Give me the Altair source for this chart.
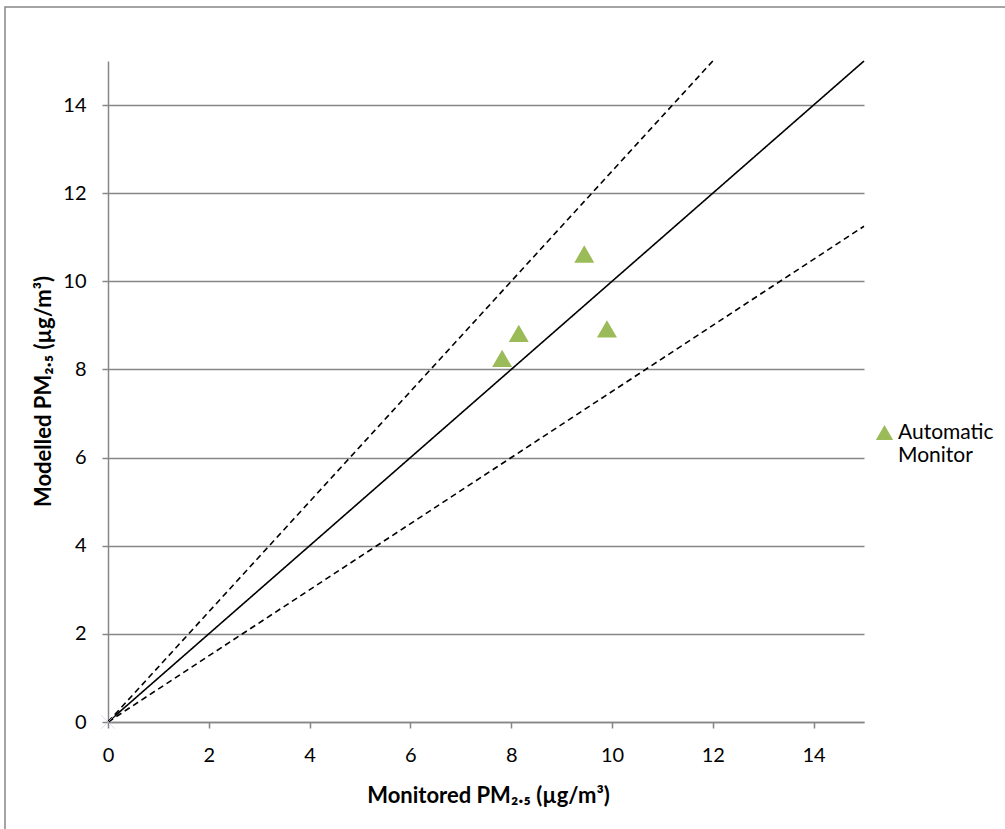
import altair as alt
import pandas as pd

# Automatic monitor sites: monitored vs modelled annual mean PM2.5 (µg/m³)
monitored = [7.82, 8.15, 9.45, 9.90]
modelled = [8.25, 8.82, 10.62, 8.92]
site_type = ["Automatic Monitor"] * 4

# Reference lines: 1:1 and ±25 % agreement envelope (start and end points)
ref_line = ["1:1", "1:1", "+25%", "+25%", "-25%", "-25%"]
ref_x = [0, 15, 0, 12, 0, 15]
ref_y = [0, 15, 0, 15, 0, 11.25]

axis_ticks = [0, 2, 4, 6, 8, 10, 12, 14]

GRAY = "#868686"
FONT = "Lato"

pts = pd.DataFrame({"monitored": monitored, "modelled": modelled, "type": site_type})
refs = pd.DataFrame({"x": ref_x, "y": ref_y, "line": ref_line})

xscale = alt.Scale(domain=[0, 15], nice=False, zero=True)
yscale = alt.Scale(domain=[0, 15], nice=False, zero=True)

x_axis = alt.Axis(
    values=axis_ticks, grid=False, tickSize=6, labelPadding=17, labelFlush=False,
    title="Monitored PM₂.₅ (µg/m³)", titleX=380, titleY=73,
    titleAlign="center", titleBaseline="middle",
)
y_axis = alt.Axis(
    values=axis_ticks, grid=True, tickSize=6, labelPadding=16, labelFlush=False,
    title="Modelled PM₂.₅  (µg/m³)", titleX=-65, titleY=330,
    titleAlign="center", titleBaseline="middle", titleAngle=-90,
)

lines = alt.Chart(refs).mark_line(color="black", strokeWidth=1.6).encode(
    x=alt.X("x:Q", scale=xscale, axis=x_axis),
    y=alt.Y("y:Q", scale=yscale, axis=y_axis),
    detail="line:N",
    strokeDash=alt.StrokeDash(
        "line:N",
        scale=alt.Scale(domain=["1:1", "+25%", "-25%"], range=[[1, 0], [6, 4], [6, 4]]),
        legend=None,
    ),
)

# faint x marker where the reference lines start
origin = alt.Chart(refs.iloc[[0]]).mark_point(
    shape="M-1,-1L1,1M-1,1L1,-1", color="#cfcde3", size=180, strokeWidth=1, filled=False
).encode(x="x:Q", y="y:Q")

points = alt.Chart(pts).mark_point(
    shape="triangle-up", filled=True, opacity=1, size=400
).encode(
    x="monitored:Q",
    y="modelled:Q",
    color=alt.Color(
        "type:N",
        scale=alt.Scale(range=["#9BBB59"]),
        legend=alt.Legend(
            title=None, orient="none", legendX=766, legendY=361,
            symbolSize=300, symbolType="triangle-up",
            labelExpr="['Automatic', 'Monitor']",
            labelFontSize=21, labelFont=FONT, labelColor="black",
            labelBaseline="middle", labelOffset=3,
        ),
    ),
)

# Outer chart frame
frame = alt.Chart(pts.iloc[[0]]).mark_rect(
    fill=None, stroke=GRAY, strokeWidth=1.5
).encode(
    x=alt.value(-103), x2=alt.value(905),
    y=alt.value(-54), y2=alt.value(780),
)

chart = alt.layer(frame, lines, origin, points).properties(
    width=756, height=661,
    padding={"left": 108, "top": 61, "right": 141, "bottom": 107},
    autosize=alt.AutoSizeParams(type="none"),
    background="white",
).configure_view(stroke=None).configure_axis(
    domainColor=GRAY, domainWidth=1.5, tickColor=GRAY, tickWidth=1.5,
    gridColor=GRAY, gridWidth=1.5,
    labelFont=FONT, labelFontSize=20, labelColor="black",
    titleFont=FONT, titleFontSize=22, titleFontWeight="bold", titleColor="black",
)

chart.save("out.html", embed_options={"renderer": "svg", "actions": False})
